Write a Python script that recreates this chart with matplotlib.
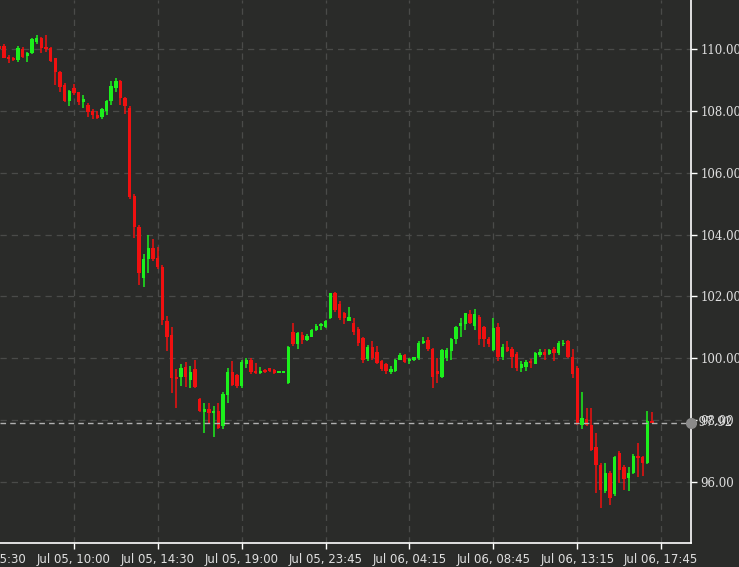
import matplotlib
matplotlib.use("Agg")
import matplotlib.pyplot as plt
import numpy as np

# ---- data (15-minute candles, index positions) ----
opens = [110.1, 110.1, 109.75, 109.72, 109.65, 110.0, 109.78, 109.87, 110.23, 110.36,
         110.06, 110.03, 109.7, 109.26, 108.84, 108.3, 108.74, 108.6, 108.28, 108.2,
         108.0, 107.85, 107.8, 108.0, 108.3, 108.75, 108.95, 108.4, 108.1, 105.25,
         104.25, 102.6, 103.2, 103.57, 103.25, 102.95, 101.2, 100.75, 99.4, 99.4,
         99.72, 99.3, 99.65, 98.7, 98.25, 98.35, 98.22, 98.3, 97.8, 98.8,
         99.55, 99.45, 99.1, 99.82, 99.95, 99.6, 99.52, 99.63, 99.67, 99.62,
         99.53, 99.53, 99.2, 100.85, 100.45, 100.75, 100.6, 100.7, 100.92, 101.03,
         101.0, 101.3, 102.1, 101.75, 101.45, 101.22, 101.15, 100.95, 100.65, 99.97,
         100.37, 100.2, 99.9, 99.8, 99.55, 99.58, 99.95, 100.1, 99.9, 99.93,
         100.0, 100.5, 100.6, 100.3, 99.6, 99.4, 100.0, 100.24, 100.62, 101.03,
         101.1, 101.42, 101.05, 101.35, 101.0, 100.62, 100.28, 101.0, 100.05, 100.35,
         100.3, 100.15, 99.7, 99.72, 99.92, 99.83, 100.1, 100.2, 100.15, 100.3,
         100.18, 100.45, 100.55, 100.05, 99.7, 97.85, 98.05, 97.85, 97.13, 96.55,
         95.7, 96.3, 95.6, 96.95, 96.5, 96.13, 96.3, 96.85, 96.82, 96.6,
         97.95]
highs = [110.15, 110.15, 109.8, 109.75, 110.1, 110.06, 109.9, 110.35, 110.45, 110.38,
         110.45, 110.05, 109.72, 109.28, 108.9, 108.67, 108.87, 108.62, 108.5, 108.25,
         108.05, 108.0, 108.1, 108.35, 108.95, 109.05, 109.0, 108.45, 108.15, 105.3,
         104.3, 103.37, 104.0, 103.85, 103.6, 103.0, 101.37, 101.0, 99.65, 99.8,
         99.88, 99.75, 99.95, 98.72, 98.55, 98.55, 98.45, 98.57, 98.9, 99.7,
         99.9, 99.5, 99.95, 100.0, 100.0, 99.85, 99.72, 99.66, 99.7, 99.64,
         99.57, 99.57, 100.4, 101.15, 100.86, 100.85, 100.8, 100.95, 101.1, 101.15,
         101.25, 102.12, 102.15, 101.85, 101.5, 101.65, 101.3, 101.0, 100.7, 100.42,
         100.55, 100.4, 99.95, 99.85, 99.75, 99.98, 100.18, 100.15, 100.0, 100.05,
         100.55, 100.7, 100.7, 100.33, 100.0, 100.3, 100.33, 100.65, 101.05, 101.3,
         101.47, 101.57, 101.6, 101.4, 101.05, 100.7, 101.3, 101.15, 100.45, 100.55,
         100.35, 100.2, 99.9, 99.95, 99.97, 100.2, 100.3, 100.3, 100.3, 100.37,
         100.55, 100.6, 100.6, 100.3, 99.75, 98.9, 98.4, 98.4, 97.58, 96.6,
         96.6, 96.35, 96.85, 97.0, 96.55, 96.5, 96.9, 97.25, 96.85, 98.3,
         98.25]
lows = [109.95, 109.7, 109.55, 109.6, 109.58, 109.7, 109.58, 109.85, 110.16, 109.87,
        109.9, 109.58, 108.84, 108.6, 108.28, 108.15, 108.5, 108.18, 108.1, 107.8,
        107.75, 107.75, 107.75, 107.85, 108.2, 108.6, 108.2, 107.9, 105.15, 103.9,
        102.37, 102.3, 102.75, 103.15, 102.9, 101.07, 100.24, 98.88, 98.4, 99.1,
        99.07, 99.05, 99.05, 98.28, 97.6, 97.9, 97.45, 97.7, 97.7, 98.55,
        99.1, 99.05, 99.05, 99.7, 99.5, 99.5, 99.5, 99.52, 99.55, 99.5,
        99.52, 99.52, 99.18, 100.4, 100.3, 100.45, 100.55, 100.68, 100.88, 100.93,
        100.98, 101.28, 101.5, 101.25, 101.1, 101.2, 100.75, 100.4, 99.85, 99.9,
        99.93, 99.82, 99.6, 99.5, 99.5, 99.55, 99.93, 99.85, 99.8, 99.9,
        99.95, 100.45, 100.25, 99.05, 99.2, 99.35, 99.9, 99.95, 100.45, 100.7,
        100.9, 101.1, 100.9, 100.42, 100.35, 100.35, 100.25, 99.9, 99.95, 100.2,
        99.7, 99.6, 99.55, 99.58, 99.7, 99.8, 100.05, 99.95, 100.1, 99.9,
        100.1, 100.4, 100.0, 99.35, 97.85, 97.7, 97.8, 97.0, 95.65, 95.16,
        95.65, 95.25, 95.55, 95.97, 95.75, 95.7, 96.25, 96.15, 96.2, 96.58,
        97.9]
closes = [110.0, 109.7, 109.68, 109.65, 110.03, 109.74, 109.87, 110.32, 110.36, 110.03,
          110.0, 109.6, 109.26, 108.77, 108.3, 108.64, 108.58, 108.28, 108.38, 107.95,
          107.85, 107.78, 108.05, 108.3, 108.8, 108.95, 108.4, 108.15, 105.2, 104.25,
          102.75, 103.2, 103.57, 103.2, 102.95, 101.23, 100.7, 99.36, 99.33, 99.7,
          99.4, 99.55, 99.07, 98.3, 98.35, 98.24, 98.3, 97.75, 98.85, 99.55,
          99.15, 99.1, 99.88, 99.93, 99.55, 99.52, 99.6, 99.55, 99.58, 99.53,
          99.56, 99.56, 100.37, 100.45, 100.83, 100.6, 100.72, 100.92, 101.05, 101.1,
          101.2, 102.1, 101.55, 101.3, 101.3, 101.32, 100.85, 100.5, 99.95, 100.37,
          100.0, 99.85, 99.65, 99.58, 99.65, 99.95, 100.1, 99.88, 99.97, 100.03,
          100.5, 100.57, 100.3, 99.38, 99.5, 100.27, 100.27, 100.62, 101.0, 101.13,
          101.45, 101.15, 101.42, 100.62, 100.62, 100.45, 100.97, 100.05, 100.35, 100.25,
          100.05, 99.7, 99.8, 99.88, 99.85, 100.17, 100.2, 100.12, 100.27, 100.18,
          100.5, 100.5, 100.05, 99.5, 97.9, 98.08, 97.85, 97.05, 96.55, 95.74,
          96.3, 95.5, 96.8, 96.4, 96.1, 96.3, 96.85, 96.78, 96.63, 97.97,
          97.92]
first_index = 2
tick_index = [0, 18, 36, 54, 72, 90, 108, 126, 144]
tick_labels = ["Jul 05, 05:30", "Jul 05, 10:00", "Jul 05, 14:30", "Jul 05, 19:00",
               "Jul 05, 23:45", "Jul 06, 04:15", "Jul 06, 08:45", "Jul 06, 13:15",
               "Jul 06, 17:45"]
y_ticks = [96, 98, 100, 102, 104, 106, 108, 110]
last_price = 97.92

BG = "#2a2b29"
UP = "#1cf01c"
DOWN = "#f01010"
XFONT = dict(fontsize=8.5, color="#e0e0e0", family="Liberation Sans Narrow")

fig = plt.figure(figsize=(7.39, 5.67), dpi=100, facecolor=BG)
ax = fig.add_axes([0, 24 / 567, 691 / 739, 543 / 567], facecolor=BG)

o = np.array(opens); h = np.array(highs); l = np.array(lows); c = np.array(closes)
x = np.arange(first_index, first_index + len(o))
colors = np.where(c >= o, UP, DOWN)
ax.vlines(x, l, h, colors=colors, linewidth=1.1, zorder=3)
body = np.maximum(np.abs(c - o), 0.05)
ax.bar(x, body, bottom=np.minimum(o, c), width=0.72, color=colors, linewidth=0, zorder=4)

ax.set_xticks(tick_index)
ax.set_xticklabels(tick_labels, **XFONT)
ax.yaxis.tick_right()
ax.set_yticks(y_ticks)
ax.set_yticklabels([f"{v:.2f}" for v in y_ticks], fontsize=8.5, color="#e0e0e0",
                   family="DejaVu Serif")
ax.set_xlim(2.15, 150.4)
ax.set_ylim(94.03, 111.58)
ax.tick_params(axis="both", colors="#ffffff", length=4, width=1, labelcolor="#e0e0e0")
ax.tick_params(axis="y", pad=3)
ax.tick_params(axis="x", pad=3)

# the first tick label lies left of the visible range; draw it cut at the figure edge
ax.annotate(tick_labels[0], xy=(tick_index[0], 0), xycoords=("data", "axes fraction"),
            xytext=(0, -7), textcoords="offset points", ha="center", va="top",
            annotation_clip=False, **XFONT)

ax.grid(True, color="#4a4b49", linestyle=(0, (5, 4)), linewidth=0.9, zorder=0)

for s in ["top", "left"]:
    ax.spines[s].set_visible(False)
for s in ["right", "bottom"]:
    ax.spines[s].set_color("#ffffff")
    ax.spines[s].set_linewidth(1.2)

# last price line and marker
ax.axhline(last_price, color="#b0b0b0", linestyle=(0, (4, 3)), linewidth=1.0, zorder=5)
ax.plot([1.0], [last_price], marker="o", markersize=7, color="#8a8a8a",
        transform=ax.get_yaxis_transform(), clip_on=False, zorder=6)
ax.text(1.0, last_price, "  97.92", transform=ax.get_yaxis_transform(), va="center",
        ha="left", fontsize=8.5, color="#e0e0e0", family="DejaVu Serif", clip_on=False)

fig.savefig("out.png", dpi=100, facecolor=BG)
